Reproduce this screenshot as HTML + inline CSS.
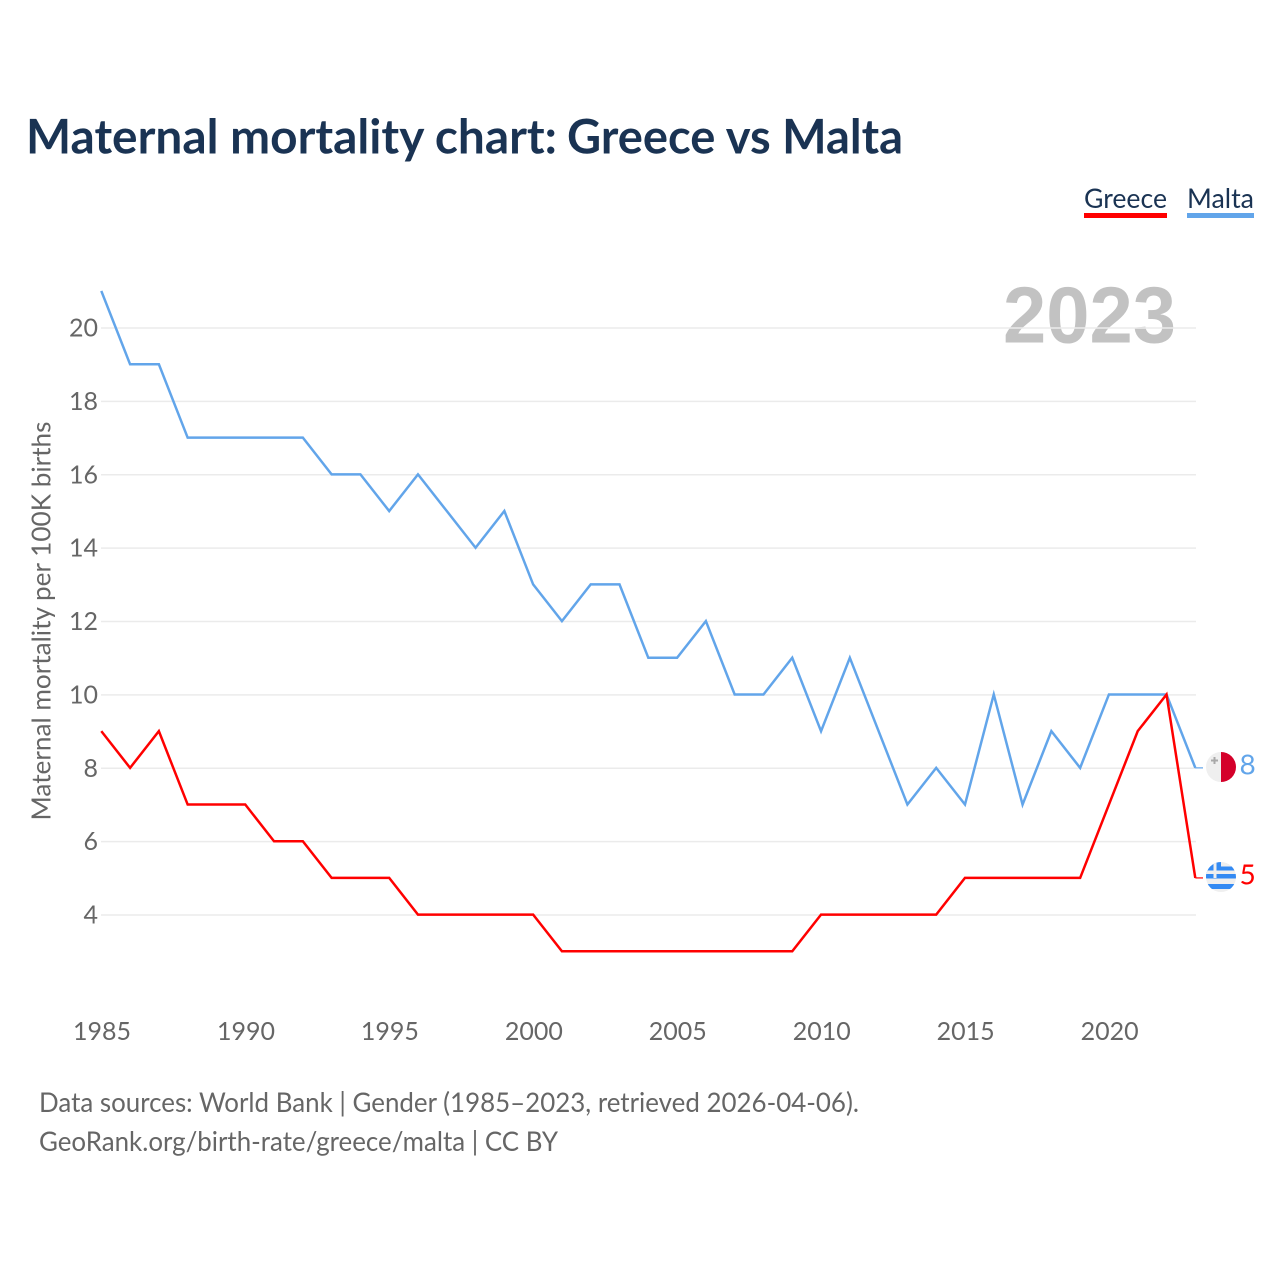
<!DOCTYPE html>
<html lang="en">
<head>
<meta charset="utf-8">
<title>Maternal mortality chart: Greece vs Malta</title>
<style>
html,body{margin:0;padding:0;background:#fff;}
svg{display:block;}
text{font-family:"Lato","Carlito","Liberation Sans",sans-serif;}
</style>
</head>
<body>
<svg id="chart" width="1280" height="1280" viewBox="0 0 1280 1280" xmlns="http://www.w3.org/2000/svg">
  <defs>
    <clipPath id="clip-malta"><circle cx="1221" cy="767" r="15"/></clipPath>
    <clipPath id="clip-greece"><circle cx="1221" cy="877" r="15"/></clipPath>
  </defs>
  <rect x="0" y="0" width="1280" height="1280" fill="#fff"/>
  <text y="153.500" font-size="47.500" font-weight="700" fill="#1a3353"><tspan x="26" textLength="531" lengthAdjust="spacingAndGlyphs">Maternal mortality chart:</tspan> <tspan x="567" textLength="336" lengthAdjust="spacingAndGlyphs">Greece vs Malta</tspan></text>

  <g>
    <g>
      <text x="1084" y="208" font-size="27" fill="#1a3353" textLength="83" lengthAdjust="spacingAndGlyphs">Greece</text>
      <rect x="1084" y="213" width="83" height="5" fill="#ff0000"/>
    </g>
    <g>
      <text x="1187" y="208" font-size="27" fill="#1a3353" textLength="67" lengthAdjust="spacingAndGlyphs">Malta</text>
      <rect x="1187" y="213" width="67" height="5" fill="#62a5ea"/>
    </g>
  </g>

  <text x="1003" y="342.500" font-size="80" font-weight="700" fill="#c2c2c2" textLength="173" lengthAdjust="spacingAndGlyphs" style="font-family:'Liberation Sans',sans-serif">2023</text>

  <g id="grid"></g>
  <g id="y-ticks"></g>
  <g id="x-ticks"></g>
  <text transform="translate(50.500,621) rotate(-90)" font-size="26" fill="#666" text-anchor="middle" textLength="399" lengthAdjust="spacingAndGlyphs">Maternal mortality per 100K births</text>

  <g id="series"></g>

  <g>
    <g clip-path="url(#clip-malta)">
      <rect x="1206" y="752" width="15" height="30" fill="#efefef"/>
      <rect x="1221" y="752" width="15" height="30" fill="#d4002a"/>
      <path d="M1213.500 757h2v2.500h2.500v2h-2.500v2.500h-2v-2.500h-2.500v-2h2.500z" fill="#a9a9a9"/>
    </g>
    <text id="end-value-malta" x="1239.500" y="774.500" font-size="28" fill="#62a5ea"></text>
  </g>
  <g>
    <g clip-path="url(#clip-greece)">
      <rect x="1206" y="862" width="30" height="30" fill="#efefef"/>
      <rect x="1206" y="866.500" width="30" height="4" fill="#338af3"/>
      <rect x="1206" y="874" width="30" height="4.500" fill="#338af3"/>
      <rect x="1206" y="884" width="30" height="5" fill="#338af3"/>
      <rect x="1206" y="862" width="15" height="16" fill="#338af3"/>
      <rect x="1213.500" y="862" width="3" height="16" fill="#efefef"/>
      <rect x="1206" y="870.500" width="15" height="3.500" fill="#efefef"/>
    </g>
    <text id="end-value-greece" x="1239.500" y="884.500" font-size="28" fill="#ff0000"></text>
  </g>

  <text x="39" y="1112" font-size="27" fill="#666" textLength="820" lengthAdjust="spacingAndGlyphs">Data sources: World Bank | Gender (1985–2023, retrieved 2026-04-06).</text>
  <text x="39" y="1151" font-size="27" fill="#666" textLength="519" lengthAdjust="spacingAndGlyphs">GeoRank.org/birth-rate/greece/malta | CC BY</text>
</svg>
<script>
var years = [1985,1986,1987,1988,1989,1990,1991,1992,1993,1994,1995,1996,1997,1998,1999,2000,2001,2002,2003,2004,2005,2006,2007,2008,2009,2010,2011,2012,2013,2014,2015,2016,2017,2018,2019,2020,2021,2022,2023];
var maltaValues = [21,19,19,17,17,17,17,17,16,16,15,16,15,14,15,13,12,13,13,11,11,12,10,10,11,9,11,9,7,8,7,10,7,9,8,10,10,10,8];
var greeceValues = [9,8,9,7,7,7,6,6,5,5,5,4,4,4,4,4,3,3,3,3,3,3,3,3,3,4,4,4,4,4,5,5,5,5,5,7,9,10,5];
var yTickValues = [4,6,8,10,12,14,16,18,20];
var xTickValues = [1985,1990,1995,2000,2005,2010,2015,2020];

var NS = 'http://www.w3.org/2000/svg';
function xScale(year){ return 101.3 + (year - 1985) * (1195.3 - 101.3) / 38; }
function yScale(v){ return 915 - (v - 4) * (915 - 328) / 16; }
function make(tag, attrs, parent){
  var el = document.createElementNS(NS, tag);
  for (var k in attrs) el.setAttribute(k, attrs[k]);
  parent.appendChild(el);
  return el;
}
var grid = document.getElementById('grid');
var yTicks = document.getElementById('y-ticks');
var xTicks = document.getElementById('x-ticks');
var seriesGroup = document.getElementById('series');

yTickValues.forEach(function(v){
  var line = make('line', {x1:101, x2:1196, y1:yScale(v), y2:yScale(v), stroke:'#ebebeb', 'stroke-width':1.5}, grid);
  
  
  var t = make('text', {x:98, y:yScale(v)+8.5, 'font-size':25, fill:'#666', 'text-anchor':'end'}, yTicks);
  
  
  t.textContent = v;
});
xTickValues.forEach(function(y){
  var t = make('text', {x:xScale(y)+0.7, y:1040, 'font-size':25, fill:'#666', 'text-anchor':'middle'}, xTicks);
  
  
  t.textContent = y;
});
function drawSeries(values, color, name){
  var pts = values.map(function(v, i){ return xScale(years[i]).toFixed(2) + ',' + (yScale(v) - 0.4).toFixed(2); }).join(' ');
  var line = make('polyline', {points:pts, fill:'none', stroke:color, 'stroke-width':2.5, 'stroke-linejoin':'miter'}, seriesGroup);
  
  
  var last = values[values.length - 1];
  var stub = make('line', {x1:xScale(2023), x2:1203, y1:yScale(last) - 0.4, y2:yScale(last) - 0.4, stroke:color, 'stroke-width':1.5, opacity:0.8}, seriesGroup);
  
  
}
drawSeries(maltaValues, '#62a5ea', 'line-malta');
drawSeries(greeceValues, '#ff0000', 'line-greece');
document.getElementById('end-value-malta').textContent = maltaValues[maltaValues.length - 1];
document.getElementById('end-value-greece').textContent = greeceValues[greeceValues.length - 1];
</script>
</body>
</html>
